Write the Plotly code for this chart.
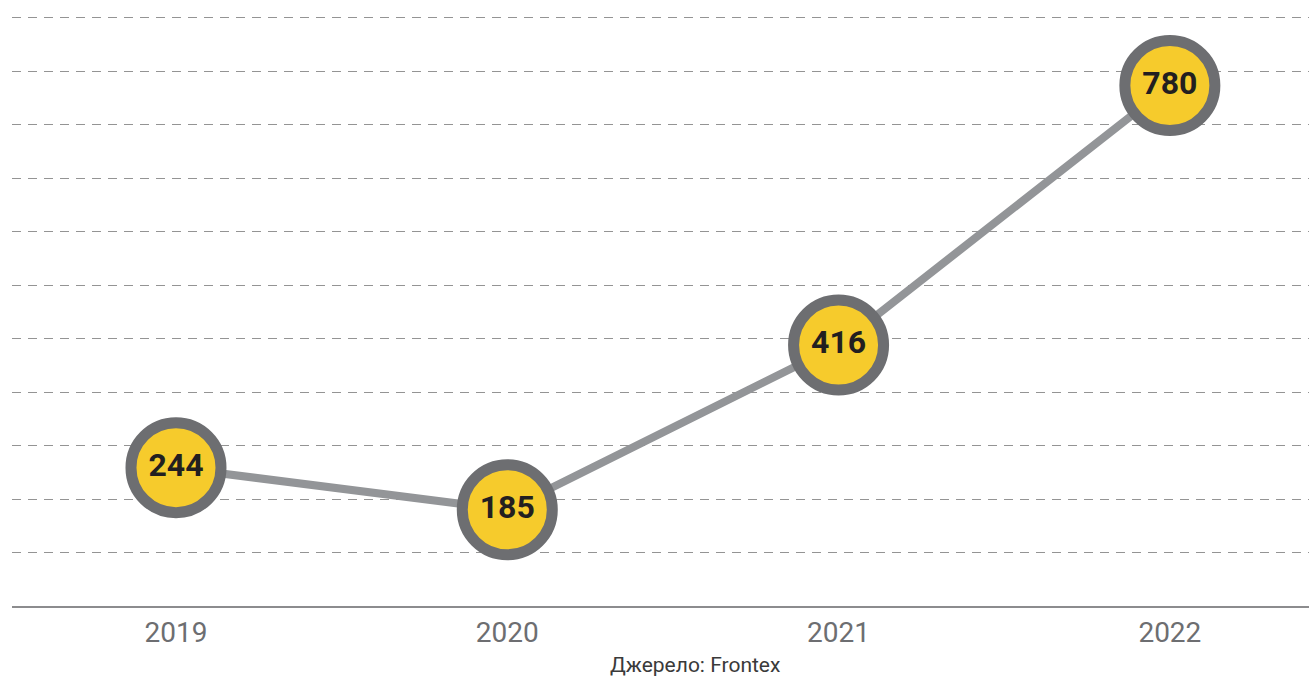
import plotly.graph_objects as go

years = ["2019", "2020", "2021", "2022"]
values = [244, 185, 416, 780]
labels = ["244", "185", "416", "780"]
source_text = "Джерело: Frontex"

fig = go.Figure()
fig.add_trace(go.Scatter(
    x=years, y=values,
    mode="lines+markers+text",
    text=labels,
    textposition="middle center",
    textfont=dict(family="Roboto", size=32, color="#231F20", weight="bold"),
    line=dict(color="#939598", width=8),
    marker=dict(size=90, color="#F6CB2C", line=dict(color="#6D6E71", width=11)),
    cliponaxis=False,
    hoverinfo="skip",
))

fig.update_layout(
    width=1309, height=676,
    margin=dict(l=12, r=0, t=0, b=70),
    paper_bgcolor="white", plot_bgcolor="white",
    showlegend=False,
    xaxis=dict(
        type="category",
        range=[-0.495, 3.42],
        showgrid=False,
        showline=True, linecolor="#8C8C8E", linewidth=2,
        ticks="", ticklabelstandoff=0,
        tickfont=dict(family="Roboto", size=28, color="#6D6E71"),
        zeroline=False,
    ),
    yaxis=dict(
        range=[50, 900],
        tick0=125, dtick=75,
        showgrid=True, gridcolor="#949494", gridwidth=1, griddash="9px,7px",
        showticklabels=False, ticks="", zeroline=False, showline=False,
    ),
    annotations=[dict(
        text=source_text, xref="paper", yref="paper",
        x=0.5266, y=0, yshift=-59, showarrow=False,
        xanchor="center", yanchor="middle",
        font=dict(family="Roboto", size=21, color="#3A3A3A"),
    )],
)

fig.write_html(
    "out.html",
    config={"displayModeBar": False},
    post_script="document.body.style.margin='0';document.body.style.overflow='hidden';",
)
